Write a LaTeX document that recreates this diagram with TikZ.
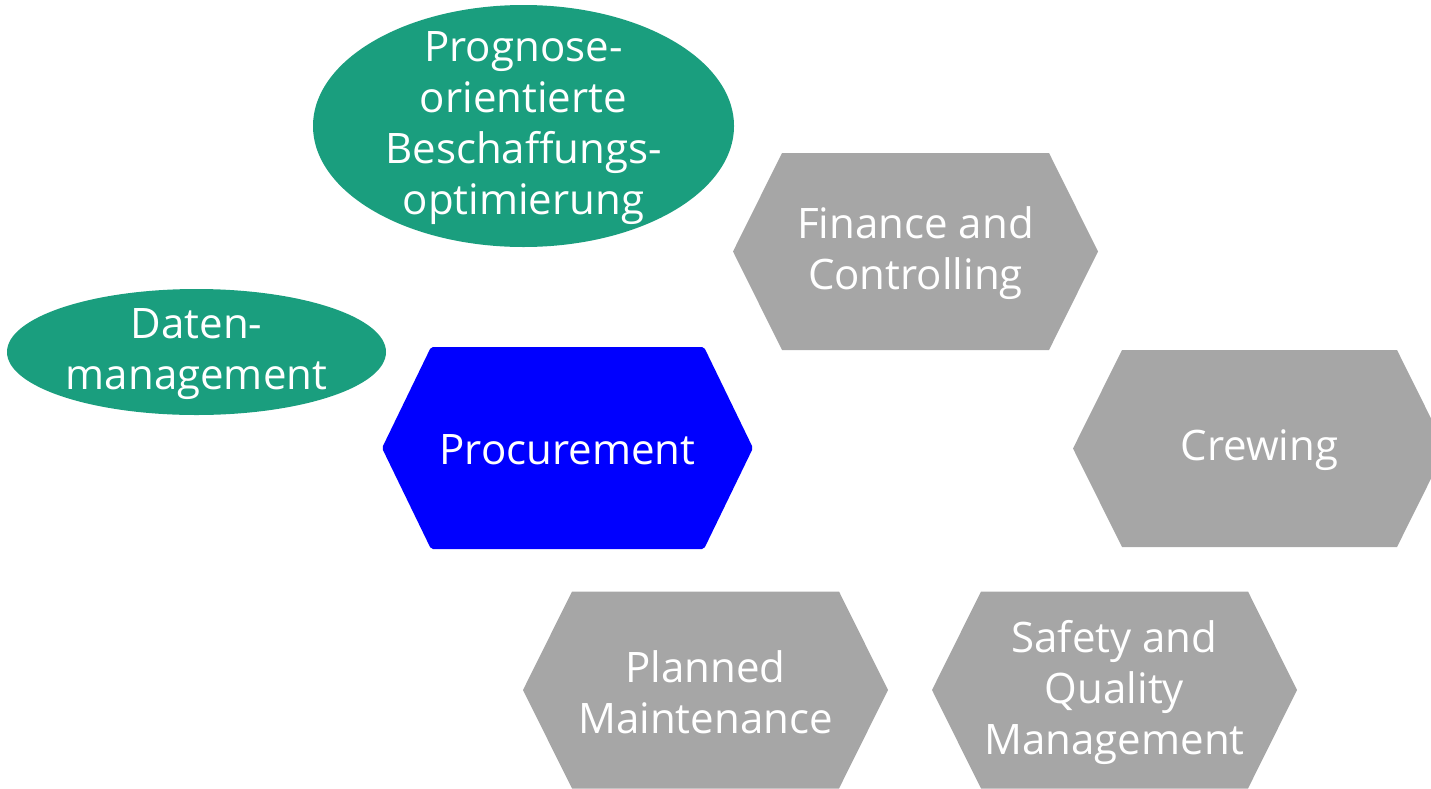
\documentclass[tikz,border=0pt]{standalone}
\usepackage{fontspec}
\setmainfont{Open Sans}
\usetikzlibrary{shapes.geometric}
\definecolor{fhgreen}{HTML}{1A9E7E}
\definecolor{hexgray}{HTML}{A6A6A6}
\definecolor{hexblue}{HTML}{0000FF}
\tikzset{
  lbl/.style={text=white, align=center, inner sep=0pt, yshift=-2pt, font=\fontsize{42}{51}\selectfont},
  ell/.style={ellipse, fill=fhgreen, draw=none, inner sep=0pt}
}
% \hexa{name}{cx}{cy}{fill}{halfwidth}{halfheight}{text}{extra}
\newcommand{\hexa}[8]{%
  \fill[#4,#8] (#2-#5,#3) -- (#2-#5+49,#3-#6) -- (#2+#5-49,#3-#6) -- (#2+#5,#3)
     -- (#2+#5-49,#3+#6) -- (#2-#5+49,#3+#6) -- cycle;
  \node[lbl] (#1) at (#2,#3) {#7};
}
\begin{document}
\begin{tikzpicture}[x=1pt,y=-1pt]
\useasboundingbox (0,0) rectangle (1431,788);
\clip (0,0) rectangle (1431,788);
% ellipses
\node[ell, minimum width=421pt, minimum height=242pt] (prog) at (523.5,126) {};
\node[lbl] (progt) at (prog.center) {Prognose-\\orientierte\\Beschaffungs-\\optimierung};
\node[ell, minimum width=379pt, minimum height=126pt] (daten) at (196.5,352) {};
\node[lbl] (datent) at (daten.center) {Daten-\\management};
% hexagons
\hexa{proc}{567.5}{448}{hexblue}{185.5}{101}{Procurement}{rounded corners=2pt}
\hexa{fin}{915.5}{251.5}{hexgray}{182.5}{98.5}{Finance and\\Controlling}{}
\hexa{crew}{1259.5}{448.5}{hexgray}{186.5}{98.5}{Crewing}{}
\hexa{plan}{705.5}{690}{hexgray}{182.5}{98.5}{Planned\\Maintenance}{}
\hexa{safe}{1114.5}{690}{hexgray}{182.5}{98.5}{Safety and\\Quality\\Management}{}
\end{tikzpicture}
\end{document}
